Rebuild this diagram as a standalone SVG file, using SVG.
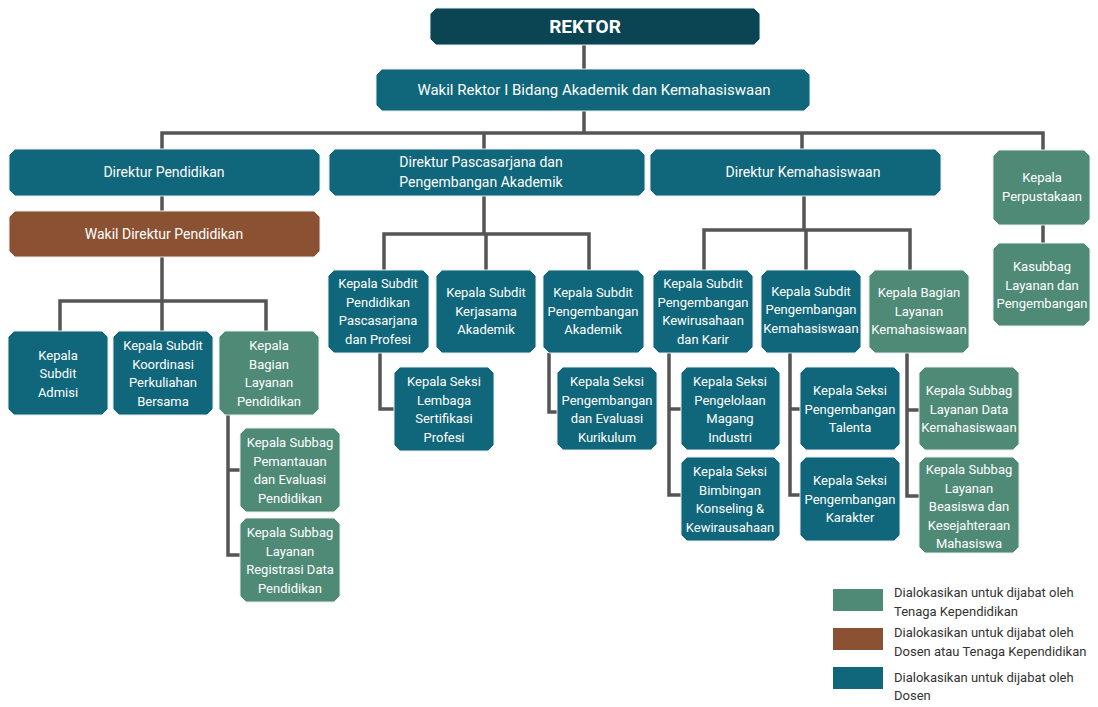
<svg xmlns="http://www.w3.org/2000/svg" width="1098" height="707" viewBox="0 0 1098 707">
<style>
  .box{stroke:#e6ecec;stroke-width:1;stroke-linejoin:round}
  .dark{fill:#0b4553}
  .teal{fill:#10667a}
  .green{fill:#4f8a77}
  .brown{fill:#8a5232}
  text{font-family:"Roboto","Liberation Sans",sans-serif;fill:#ffffff;text-anchor:middle}
  .t{font-size:13px}
  .d{font-size:14px}
  .w{font-size:15px}
  .r{font-size:19px;font-weight:bold}
  .lg{font-size:13px;fill:#333333;text-anchor:start}
  .conn path{fill:none;stroke:#555555;stroke-width:3.5;stroke-linejoin:miter}
</style>
<rect width="1098" height="707" fill="#ffffff"/>
<g class="conn" id="connectors">
  <path d="M584,45 V69"/>
  <path d="M584,111 V133"/>
  <path d="M162,149 V133 H1043 V150"/>
  <path d="M484,133 V149"/>
  <path d="M802,133 V149"/>
  <path d="M162,196 V211"/>
  <path d="M162,257 V331"/>
  <path d="M60,331 V301 H266 V331"/>
  <path d="M228,415 V555 H240"/>
  <path d="M228,470 H240"/>
  <path d="M484,196 V234"/>
  <path d="M384,270 V234 H589 V270"/>
  <path d="M486,234 V270"/>
  <path d="M380,353 V409 H394"/>
  <path d="M549,353 V412 H557"/>
  <path d="M804,196 V230"/>
  <path d="M704,270 V230 H910 V270"/>
  <path d="M806,230 V270"/>
  <path d="M669,353 V495 H681"/>
  <path d="M669,409 H681"/>
  <path d="M790,353 V495 H800"/>
  <path d="M790,409 H800"/>
  <path d="M907,353 V496 H919"/>
  <path d="M907,410 H919"/>
  <path d="M1043,225 V243"/>
</g>
<g id="rektor"><polygon class="box dark" points="436,8 754,8 760,14 760,39 754,45 436,45 430,39 430,14"/><text class="r" x="585" y="33">REKTOR</text></g>
<g id="wakil-rektor"><polygon class="box teal" points="382,69 804,69 810,75 810,105 804,111 382,111 376,105 376,75"/><text class="w" x="594" y="95">Wakil Rektor I Bidang Akademik dan Kemahasiswaan</text></g>
<g id="direktur-pendidikan"><polygon class="box teal" points="15,149 314,149 320,155 320,190 314,196 15,196 9,190 9,155"/><text class="d" x="164" y="177">Direktur Pendidikan</text></g>
<g id="direktur-pascasarjana"><polygon class="box teal" points="335,149 639,149 645,155 645,190 639,196 335,196 329,190 329,155"/><text class="d" x="481" y="167">Direktur Pascasarjana dan</text><text class="d" x="481" y="187">Pengembangan Akademik</text></g>
<g id="direktur-kemahasiswaan"><polygon class="box teal" points="656,149 935,149 941,155 941,190 935,196 656,196 650,190 650,155"/><text class="d" x="803" y="177">Direktur Kemahasiswaan</text></g>
<g id="kepala-perpustakaan"><polygon class="box green" points="999,150 1084,150 1090,156 1090,219 1084,225 999,225 993,219 993,156"/><text class="t" x="1042" y="182">Kepala</text><text class="t" x="1042" y="201">Perpustakaan</text></g>
<g id="kasubbag-perpustakaan"><polygon class="box green" points="999,243 1084,243 1090,249 1090,320 1084,326 999,326 993,320 993,249"/><text class="t" x="1042" y="271">Kasubbag</text><text class="t" x="1042" y="290">Layanan dan</text><text class="t" x="1042" y="308">Pengembangan</text></g>
<g id="wakil-direktur-pendidikan"><polygon class="box brown" points="15,211 314,211 320,217 320,251 314,257 15,257 9,251 9,217"/><text class="d" x="164" y="239">Wakil Direktur Pendidikan</text></g>
<g id="subdit-admisi"><polygon class="box teal" points="14,331 102,331 108,337 108,409 102,415 14,415 8,409 8,337"/><text class="t" x="58" y="360">Kepala</text><text class="t" x="58" y="378">Subdit</text><text class="t" x="58" y="397">Admisi</text></g>
<g id="subdit-koordinasi"><polygon class="box teal" points="119,331 207,331 213,337 213,409 207,415 119,415 113,409 113,337"/><text class="t" x="163" y="350">Kepala Subdit</text><text class="t" x="163" y="369">Koordinasi</text><text class="t" x="163" y="387">Perkuliahan</text><text class="t" x="163" y="406">Bersama</text></g>
<g id="bagian-layanan-pendidikan"><polygon class="box green" points="225,331 313,331 319,337 319,409 313,415 225,415 219,409 219,337"/><text class="t" x="269" y="350">Kepala</text><text class="t" x="269" y="369">Bagian</text><text class="t" x="269" y="387">Layanan</text><text class="t" x="269" y="406">Pendidikan</text></g>
<g id="subbag-pemantauan"><polygon class="box green" points="246,428 334,428 340,434 340,506 334,512 246,512 240,506 240,434"/><text class="t" x="290" y="447">Kepala Subbag</text><text class="t" x="290" y="466">Pemantauan</text><text class="t" x="290" y="484">dan Evaluasi</text><text class="t" x="290" y="503">Pendidikan</text></g>
<g id="subbag-registrasi"><polygon class="box green" points="246,518 334,518 340,524 340,596 334,602 246,602 240,596 240,524"/><text class="t" x="290" y="537">Kepala Subbag</text><text class="t" x="290" y="556">Layanan</text><text class="t" x="290" y="574">Registrasi Data</text><text class="t" x="290" y="593">Pendidikan</text></g>
<g id="subdit-pascasarjana"><polygon class="box teal" points="334,270 423,270 429,276 429,347 423,353 334,353 328,347 328,276"/><text class="t" x="378" y="288">Kepala Subdit</text><text class="t" x="378" y="307">Pendidikan</text><text class="t" x="378" y="325">Pascasarjana</text><text class="t" x="378" y="344">dan Profesi</text></g>
<g id="subdit-kerjasama"><polygon class="box teal" points="442,270 530,270 536,276 536,347 530,353 442,353 436,347 436,276"/><text class="t" x="486" y="297">Kepala Subdit</text><text class="t" x="486" y="316">Kerjasama</text><text class="t" x="486" y="334">Akademik</text></g>
<g id="subdit-pengembangan-akademik"><polygon class="box teal" points="549,270 638,270 644,276 644,347 638,353 549,353 543,347 543,276"/><text class="t" x="593" y="297">Kepala Subdit</text><text class="t" x="593" y="316">Pengembangan</text><text class="t" x="593" y="334">Akademik</text></g>
<g id="seksi-lsp"><polygon class="box teal" points="400,367 488,367 494,373 494,445 488,451 400,451 394,445 394,373"/><text class="t" x="444" y="386">Kepala Seksi</text><text class="t" x="444" y="405">Lembaga</text><text class="t" x="444" y="423">Sertifikasi</text><text class="t" x="444" y="442">Profesi</text></g>
<g id="seksi-kurikulum"><polygon class="box teal" points="563,367 651,367 657,373 657,444 651,450 563,450 557,444 557,373"/><text class="t" x="607" y="386">Kepala Seksi</text><text class="t" x="607" y="405">Pengembangan</text><text class="t" x="607" y="423">dan Evaluasi</text><text class="t" x="607" y="442">Kurikulum</text></g>
<g id="subdit-kewirausahaan"><polygon class="box teal" points="659,270 747,270 753,276 753,347 747,353 659,353 653,347 653,276"/><text class="t" x="703" y="288">Kepala Subdit</text><text class="t" x="703" y="307">Pengembangan</text><text class="t" x="703" y="325">Kewirusahaan</text><text class="t" x="703" y="344">dan Karir</text></g>
<g id="subdit-kemahasiswaan"><polygon class="box teal" points="767,270 855,270 861,276 861,347 855,353 767,353 761,347 761,276"/><text class="t" x="811" y="296">Kepala Subdit</text><text class="t" x="811" y="314">Pengembangan</text><text class="t" x="811" y="333">Kemahasiswaan</text></g>
<g id="bagian-layanan-kemahasiswaan"><polygon class="box green" points="875,270 963,270 969,276 969,347 963,353 875,353 869,347 869,276"/><text class="t" x="919" y="297">Kepala Bagian</text><text class="t" x="919" y="316">Layanan</text><text class="t" x="919" y="334">Kemahasiswaan</text></g>
<g id="seksi-magang"><polygon class="box teal" points="687,367 774,367 780,373 780,444 774,450 687,450 681,444 681,373"/><text class="t" x="730" y="386">Kepala Seksi</text><text class="t" x="730" y="405">Pengelolaan</text><text class="t" x="730" y="423">Magang</text><text class="t" x="730" y="442">Industri</text></g>
<g id="seksi-bimbingan"><polygon class="box teal" points="687,457 774,457 780,463 780,535 774,541 687,541 681,535 681,463"/><text class="t" x="730" y="476">Kepala Seksi</text><text class="t" x="730" y="495">Bimbingan</text><text class="t" x="730" y="513">Konseling &amp;</text><text class="t" x="730" y="532">Kewirausahaan</text></g>
<g id="seksi-talenta"><polygon class="box teal" points="806,367 894,367 900,373 900,444 894,450 806,450 800,444 800,373"/><text class="t" x="850" y="395">Kepala Seksi</text><text class="t" x="850" y="414">Pengembangan</text><text class="t" x="850" y="432">Talenta</text></g>
<g id="seksi-karakter"><polygon class="box teal" points="806,457 894,457 900,463 900,535 894,541 806,541 800,535 800,463"/><text class="t" x="850" y="485">Kepala Seksi</text><text class="t" x="850" y="504">Pengembangan</text><text class="t" x="850" y="522">Karakter</text></g>
<g id="subbag-data-kemahasiswaan"><polygon class="box green" points="925,367 1013,367 1019,373 1019,444 1013,450 925,450 919,444 919,373"/><text class="t" x="969" y="395">Kepala Subbag</text><text class="t" x="969" y="414">Layanan Data</text><text class="t" x="969" y="432">Kemahasiswaan</text></g>
<g id="subbag-beasiswa"><polygon class="box green" points="925,457 1013,457 1019,463 1019,547 1013,553 925,553 919,547 919,463"/><text class="t" x="969" y="474">Kepala Subbag</text><text class="t" x="969" y="493">Layanan</text><text class="t" x="969" y="511">Beasiswa dan</text><text class="t" x="969" y="530">Kesejahteraan</text><text class="t" x="969" y="548">Mahasiswa</text></g>
<g id="legend">
  <rect class="green" x="833" y="589" width="50" height="22"/>
  <text class="lg" x="894" y="597">Dialokasikan untuk dijabat oleh</text>
  <text class="lg" x="894" y="616">Tenaga Kependidikan</text>
  <rect class="brown" x="833" y="628" width="50" height="22"/>
  <text class="lg" x="894" y="637">Dialokasikan untuk dijabat oleh</text>
  <text class="lg" x="894" y="656">Dosen atau Tenaga Kependidikan</text>
  <rect class="teal" x="833" y="667" width="50" height="22"/>
  <text class="lg" x="894" y="682">Dialokasikan untuk dijabat oleh</text>
  <text class="lg" x="894" y="700">Dosen</text>
</g>
</svg>
